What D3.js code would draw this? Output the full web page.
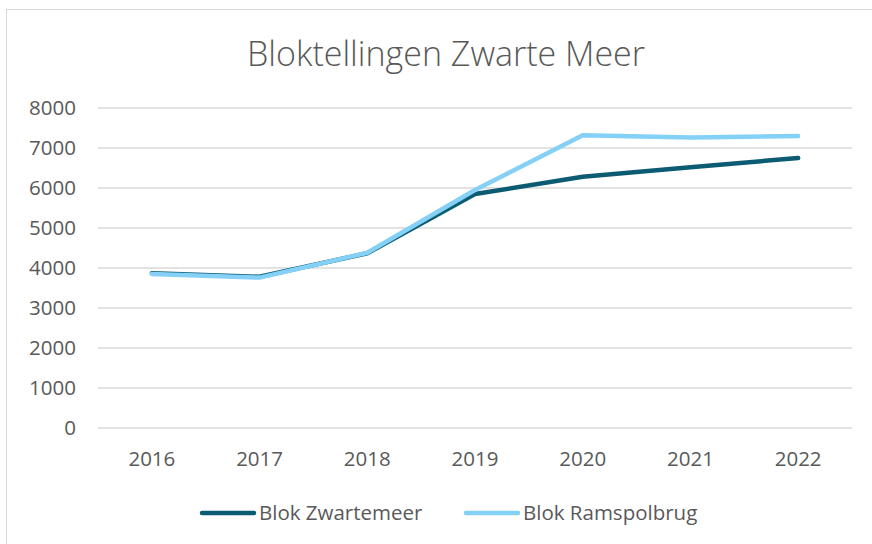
<!DOCTYPE html>
<meta charset="utf-8">
<head>
  <title>Bloktellingen Zwarte Meer</title>
</head>
<style>
body {
  margin: 0;
  background: #fff;
  font-family: "Open Sans", sans-serif;
}
</style>
<body>
  <div id="content"></div>
  <script src="https://cdnjs.cloudflare.com/ajax/libs/d3/7.8.5/d3.min.js"></script>
  <script>

// data
var years = ['2016', '2017', '2018', '2019', '2020', '2021', '2022'];
var zwartemeer = [3870, 3780, 4370, 5850, 6280, 6520, 6750];
var ramspolbrug = [3850, 3760, 4380, 5950, 7320, 7260, 7300];
var yTicks = [0, 1000, 2000, 3000, 4000, 5000, 6000, 7000, 8000];
var seriesNames = ['Blok Zwartemeer', 'Blok Ramspolbrug'];
var seriesColors = ['#0b5c73', '#84d0f6'];

var width = 872, height = 544;
var margin = {top: 108, right: 20, bottom: 116, left: 98};

var svg = d3.select('#content').append('svg')
  .attr('width', width)
  .attr('height', height);

// chart frame
svg.append('rect')
  .attr('x', 6.5).attr('y', 9.5)
  .attr('width', 880).attr('height', 560)
  .attr('fill', '#fff')
  .attr('stroke', '#d9d9d9');

svg.append('text')
  .attr('x', 446).attr('y', 66)
  .attr('text-anchor', 'middle')
  .attr('font-size', 34)
  .attr('font-weight', 300)
  .attr('fill', '#595959')
  .text('Bloktellingen Zwarte Meer');

var x = d3.scaleBand()
  .domain(years)
  .range([margin.left, 852]);

var y = d3.scaleLinear()
  .domain([0, 8000])
  .range([428, 108]);

// gridlines
svg.append('g')
  .selectAll('line')
  .data(yTicks)
  .join('line')
  .attr('x1', margin.left).attr('x2', 852)
  .attr('y1', d => y(d)).attr('y2', d => y(d))
  .attr('stroke', '#d9d9d9')
  .attr('stroke-width', 1.5);

// y axis labels
var yAxis = svg.append('g')
  .attr('transform', 'translate(76,0)')
  .call(d3.axisLeft(y).tickValues(yTicks).tickFormat(d3.format('d')).tickSize(0).tickPadding(0));
yAxis.select('.domain').remove();
yAxis.selectAll('text')
  .attr('font-family', '"Open Sans", sans-serif')
  .attr('font-size', 20.5)
  .attr('fill', '#595959');

// x axis labels
var xAxis = svg.append('g')
  .attr('transform', 'translate(0,451)')
  .call(d3.axisBottom(x).tickSize(0).tickPadding(0));
xAxis.select('.domain').remove();
xAxis.selectAll('text')
  .attr('font-family', '"Open Sans", sans-serif')
  .attr('font-size', 20.5)
  .attr('fill', '#595959');

var line = d3.line()
  .x((d, i) => x(years[i]) + x.bandwidth() / 2)
  .y(d => y(d));

[zwartemeer, ramspolbrug].forEach(function(s, i) {
  svg.append('path')
    .attr('d', line(s))
    .attr('fill', 'none')
    .attr('stroke', seriesColors[i])
    .attr('stroke-width', 4.5)
    .attr('stroke-linecap', 'round')
    .attr('stroke-linejoin', 'round');
});

// legend
var legendX = [202, 466];
var legend = svg.append('g')
  .selectAll('g')
  .data(seriesNames)
  .join('g')
  .attr('transform', (d, i) => 'translate(' + legendX[i] + ',513)');

legend.append('line')
  .attr('x1', 0).attr('x2', 52)
  .attr('stroke', (d, i) => seriesColors[i])
  .attr('stroke-width', 4.5)
  .attr('stroke-linecap', 'round');

legend.append('text')
  .attr('x', 57).attr('dy', '0.35em')
  .attr('font-size', 20.5)
  .attr('fill', '#595959')
  .text(d => d);
</script>
</body>
</html>
